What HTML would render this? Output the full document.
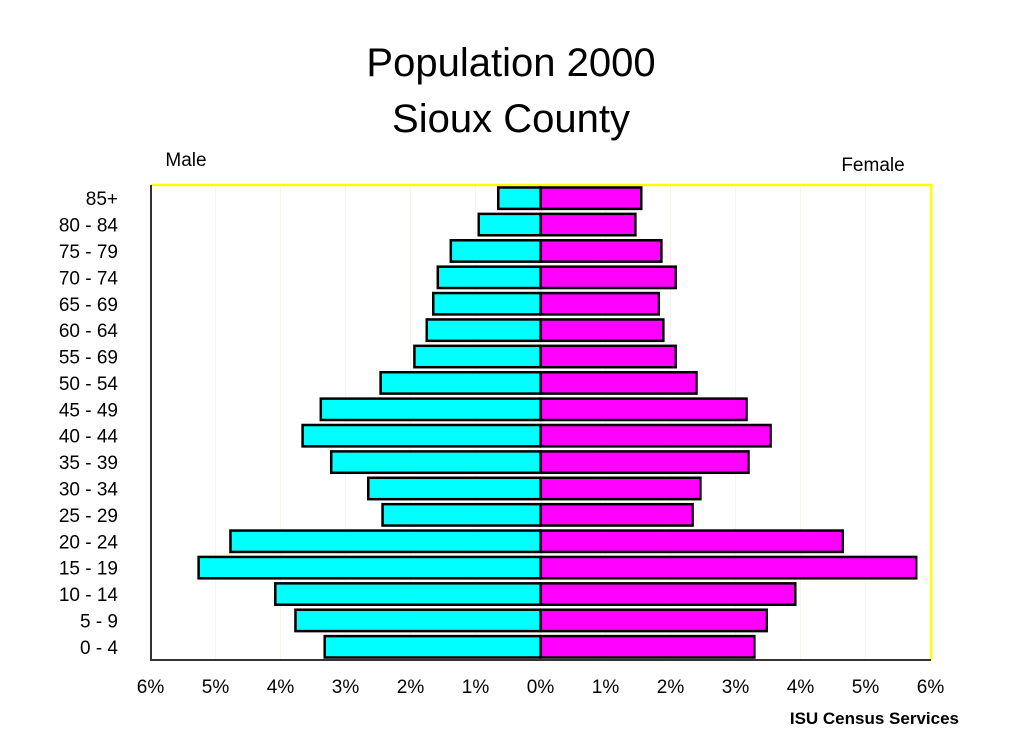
<!DOCTYPE html>
<html><head><meta charset="utf-8"><style>
body{margin:0;background:#fff;width:1023px;height:744px;overflow:hidden;font-family:"Liberation Sans",sans-serif}
</style></head><body>
<svg width="1023" height="744" xmlns="http://www.w3.org/2000/svg">
<g id="chart"></g>
</svg>
<script>
const categories=["85+","80 - 84","75 - 79","70 - 74","65 - 69","60 - 64","55 - 69","50 - 54","45 - 49","40 - 44","35 - 39","30 - 34","25 - 29","20 - 24","15 - 19","10 - 14","5 - 9","0 - 4"];
const maleValues=[0.65,0.95,1.38,1.58,1.65,1.75,1.94,2.46,3.38,3.66,3.22,2.65,2.43,4.77,5.26,4.08,3.77,3.32];
const femaleValues=[1.55,1.46,1.86,2.08,1.82,1.89,2.08,2.40,3.17,3.54,3.20,2.46,2.34,4.65,5.78,3.92,3.48,3.29];
const tickValues=[-6,-5,-4,-3,-2,-1,0,1,2,3,4,5,6];
const tickLabels=["6%","5%","4%","3%","2%","1%","0%","1%","2%","3%","4%","5%","6%"];
const NS="http://www.w3.org/2000/svg";
const g=document.getElementById('chart');
const L=151,R=931,T=185,B=660,X0=540.5;
const xs=v=>X0+v*((R-L)/12);
const band=(B-T)/categories.length;
const ys=i=>T+i*band;
function mk(tag,attrs,txt){const e=document.createElementNS(NS,tag);for(const k in attrs)e.setAttribute(k,attrs[k]);if(txt!==undefined)e.textContent=txt;g.appendChild(e);return e;}
let e;
e=mk('text',{x:511,y:76,'text-anchor':'middle','font-size':40,fill:'#000'},'Population 2000');


e=mk('text',{x:511,y:132,'text-anchor':'middle','font-size':40,fill:'#000'},'Sioux County');


e=mk('text',{x:186,y:166,'text-anchor':'middle','font-size':19,fill:'#000'},'Male');


e=mk('text',{x:873,y:171,'text-anchor':'middle','font-size':19,fill:'#000'},'Female');


tickValues.forEach((v,i)=>{
  if(v!==0&&Math.abs(v)!==6){const gl=mk('line',{x1:xs(v),x2:xs(v),y1:T,y2:B,stroke:'#f6f6ee','stroke-width':1});
  
  }
  const t=mk('text',{x:xs(v),y:693,'text-anchor':'middle','font-size':19,fill:'#000'},tickLabels[i]);
  
  
});
e=mk('path',{d:`M${L} ${T}H${R}V${B}`,fill:'none',stroke:'#ffff00','stroke-width':2.5});


e=mk('path',{d:`M${L} ${T}V${B}H${R}`,fill:'none',stroke:'#333','stroke-width':2});


categories.forEach((c,i)=>{
  const y=ys(i)+2.5,h=band-5;
  const m=mk('rect',{x:xs(-maleValues[i]),y:y,width:xs(0)-xs(-maleValues[i]),height:h,fill:'#00ffff',stroke:'#000','stroke-width':2.5});
  
  
  const f=mk('rect',{x:xs(0),y:y,width:xs(femaleValues[i])-xs(0),height:h,fill:'#ff00ff',stroke:'#000','stroke-width':2.5});
  
  
  const t=mk('text',{x:118,y:ys(i)+band/2+7,'text-anchor':'end','font-size':19,fill:'#000'},c);
  
  
});
e=mk('text',{x:959,y:724,'text-anchor':'end','font-size':17,'font-weight':'bold',fill:'#000'},'ISU Census Services');


</script>
</body></html>
